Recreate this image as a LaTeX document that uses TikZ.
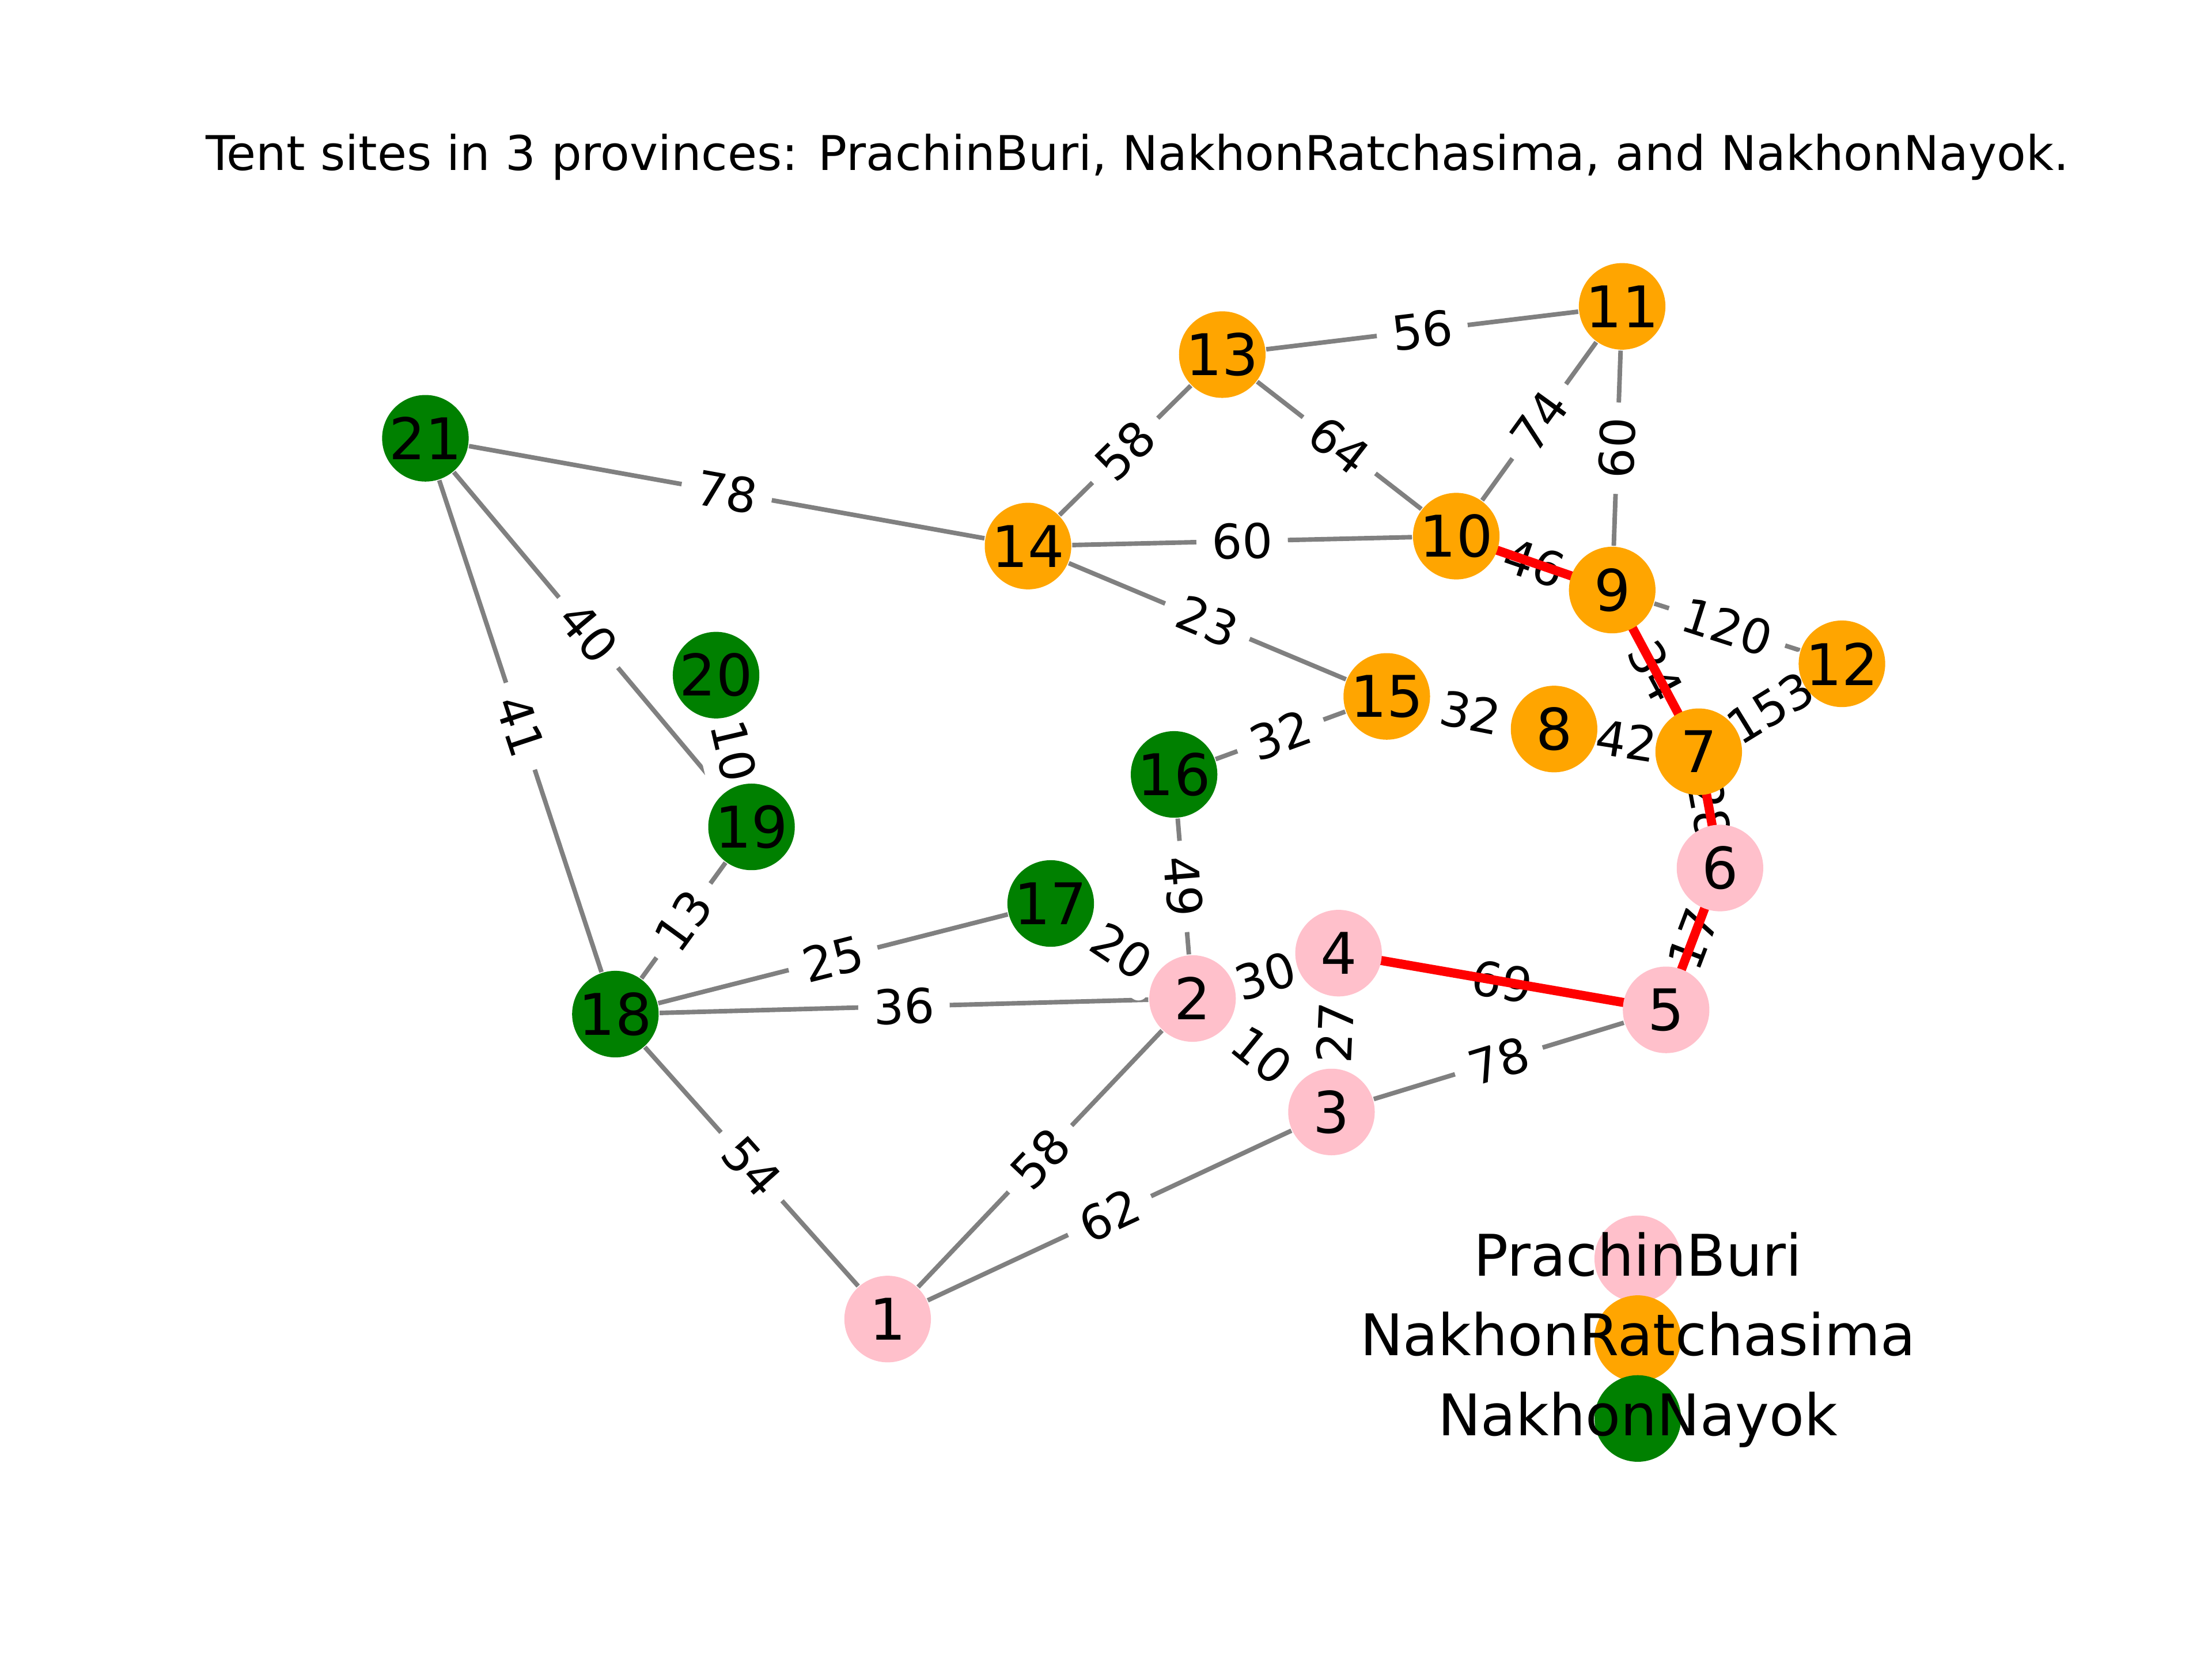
\documentclass[tikz,border=0pt]{standalone}
\usepackage{fontspec}
\setmainfont{DejaVu Sans}
\pgfdeclarelayer{edges}
\pgfdeclarelayer{weights}
\pgfdeclarelayer{route}
\pgfsetlayers{edges,weights,route,main}
\definecolor{prachincol}{HTML}{FFC0CB}
\definecolor{ratchacol}{HTML}{FFA500}
\definecolor{nayokcol}{HTML}{008000}
\definecolor{roadcol}{HTML}{808080}
\begin{document}
\begin{tikzpicture}[x=0.0104205cm,y=-0.0104205cm,
    site/.style={circle,minimum size=18.1pt,inner sep=0pt,font=\fontsize{12}{14}\selectfont},
    prachin/.style={site,fill=prachincol},
    ratcha/.style={site,fill=ratchacol},
    nayok/.style={site,fill=nayokcol},
    road/.style={draw=roadcol,line width=0.95pt},
    hotroad/.style={draw=red,line width=1.9pt},
    wlabel/.style={midway,sloped,fill=white,inner sep=3.2pt,rounded corners=2pt,font=\fontsize{10}{12}\selectfont}]
    \useasboundingbox (0,0) rectangle (1560,1170);
    % Titel
    \node[anchor=base,font=\fontsize{10}{12}\selectfont] (title) at (802,120)
      {Tent sites in 3 provinces: PrachinBuri, NakhonRatchasima, and NakhonNayok.};
    % Knoten
    \foreach \n/\x/\y in {1/626/930,2/841/704,3/939/784,4/944/672,5/1175/712,6/1213/612}
      \node[prachin] (v\n) at (\x,\y) {\n};
    \foreach \n/\x/\y in {7/1198/530,8/1096/514,9/1137/416,10/1027/378,11/1144/216,
                          12/1299/468,13/862/250,14/725/385,15/978/491}
      \node[ratcha] (v\n) at (\x,\y) {\n};
    \foreach \n/\x/\y in {16/828/546,17/741/637,18/434/715,19/530/583,20/505/476,21/300/309}
      \node[nayok] (v\n) at (\x,\y) {\n};
    % Kanten
    \def\roads{21/14/78,21/19/40,21/18/41,20/19/10,18/19/13,18/17/25,18/2/36,18/1/54,
      1/2/58,1/3/62,17/2/20,16/2/49,2/4/30,2/3/10,4/3/27,3/5/78,16/15/32,15/8/32,
      8/7/42,14/15/23,14/10/60,14/13/58,13/10/64,13/11/56,10/11/74,11/9/60,
      9/12/120,7/12/153}
    \def\hotroads{10/9/46,9/7/34,7/6/28,6/5/17,5/4/69}
    \begin{pgfonlayer}{edges}
      \foreach \a/\b/\w in \roads
        \draw[road] (v\a) -- (v\b);
    \end{pgfonlayer}
    \begin{pgfonlayer}{weights}
      \foreach \a/\b/\w in \roads
        \path (v\a) -- (v\b) node[wlabel]{\w};
      \foreach \a/\b/\w in \hotroads
        \path (v\a) -- (v\b) node[wlabel]{\w};
    \end{pgfonlayer}
    \begin{pgfonlayer}{route}
      \foreach \a/\b/\w in \hotroads
        \draw[hotroad] (v\a.center) -- (v\b.center);
    \end{pgfonlayer}
    % Legende
    \foreach \i/\s/\t in {0/prachin/PrachinBuri,1/ratcha/NakhonRatchasima,2/nayok/NakhonNayok}{
      \node[\s] (key\i) at (1155,{887.5+56.3*\i}) {};
      \node[anchor=base,font=\fontsize{12}{14}\selectfont] (keytext\i) at (1155,{899.5+56.3*\i}) {\t};
    }
\end{tikzpicture}
\end{document}
